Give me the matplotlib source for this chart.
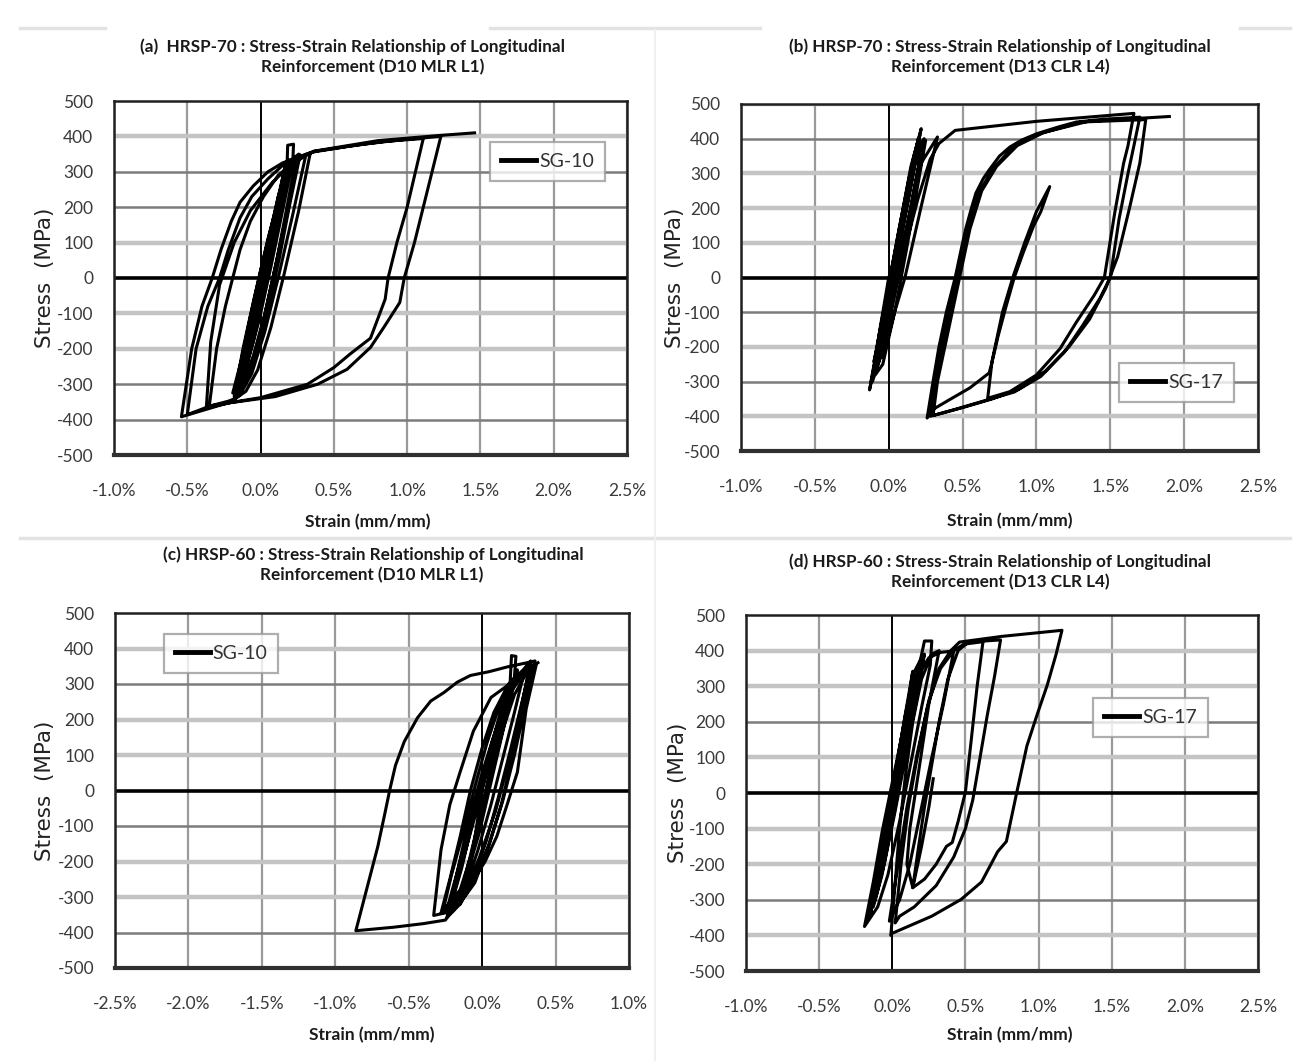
import matplotlib
matplotlib.use("Agg")
import matplotlib.pyplot as plt
import matplotlib.font_manager as fm
from matplotlib.lines import Line2D
from matplotlib.ticker import FuncFormatter

# ---------------- data (strain in %, stress in MPa) ----------------
titles = [
    ("(a)  HRSP-70 : Stress-Strain Relationship of Longitudinal", "Reinforcement (D10 MLR L1)"),
    ("(b) HRSP-70 : Stress-Strain Relationship of Longitudinal", "Reinforcement (D13 CLR L4)"),
    ("(c) HRSP-60 : Stress-Strain Relationship of Longitudinal", "Reinforcement (D10 MLR L1)"),
    ("(d) HRSP-60 : Stress-Strain Relationship of Longitudinal", "Reinforcement (D13 CLR L4)"),
]
series_names = ["SG-10", "SG-17", "SG-10", "SG-17"]
x_label = "Strain (mm/mm)"
y_label = "Stress  (MPa)"
y_ticks = [-500, -400, -300, -200, -100, 0, 100, 200, 300, 400, 500]
x_ticks_abd = [-1.0, -0.5, 0.0, 0.5, 1.0, 1.5, 2.0, 2.5]
x_ticks_c = [-2.5, -2.0, -1.5, -1.0, -0.5, 0.0, 0.5, 1.0]

a_strain = [
    0.00, -0.08, -0.17,
    -0.11, -0.05, 0.02, 0.09, 0.16, 0.22,
    0.16, 0.09, 0.02, -0.05, -0.12, -0.19,
    -0.13, -0.07, 0.00, 0.07, 0.14, 0.21, 0.27,
    0.20, 0.13, 0.05, -0.03, -0.10, -0.14,
    -0.08, -0.02, 0.05, 0.12, 0.19, 0.24,
    0.18, 0.11, 0.03, -0.05, -0.13,
    -0.06, 0.00, 0.06, 0.12, 0.17,
    0.10, 0.02, -0.06, -0.12,
    -0.06, 0.01, 0.08, 0.14, 0.19,
    0.12, 0.04, -0.04, -0.10, -0.15,
    -0.09, -0.02, 0.05, 0.12, 0.18, 0.185, 0.225, 0.22,
    0.15, 0.07, -0.01, -0.09, -0.16,
    -0.10, -0.03, 0.05, 0.13, 0.20, 0.26,
    0.19, 0.10, 0.02, -0.06, -0.14, -0.18,
    -0.12, -0.04, 0.05, 0.14, 0.22, 0.30, 0.34,
    0.26, 0.16, 0.07, -0.02, -0.10, -0.17, -0.22, -0.35,
    -0.30, -0.24, -0.19, -0.14, -0.07, 0.02, 0.12, 0.25, 0.31,
    0.22, 0.12, 0.03, -0.06, -0.14, -0.20, -0.54,
    -0.47, -0.40, -0.33, -0.27, -0.20, -0.14, -0.05, 0.05, 0.15, 0.30, 0.36,
    0.60, 0.85, 1.11,
    1.00, 0.93, 0.87, 0.85, 0.75, 0.61, 0.50, 0.32, 0.00, -0.34, -0.50,
    -0.44, -0.36, -0.28, -0.22, -0.14, -0.06, 0.05, 0.15, 0.30, 0.37,
    0.70, 1.00, 1.23,
    1.11, 1.05, 0.98, 0.95, 0.84, 0.75, 0.59, 0.39, 0.10, -0.20, -0.37,
    -0.34, -0.28, -0.18, -0.07, 0.08, 0.22, 0.36,
    0.80, 1.20, 1.46,
]
a_stress = [
    0, -160, -320,
    -210, -90, 50, 170, 280, 335,
    230, 90, -50, -180, -280, -325,
    -230, -110, 20, 140, 250, 320, 348,
    210, 60, -90, -210, -290, -305,
    -190, -70, 60, 190, 290, 330,
    200, 50, -100, -220, -310,
    -170, -40, 90, 220, 320,
    190, 30, -140, -300,
    -170, -30, 120, 240, 335,
    190, 30, -130, -250, -310,
    -170, -40, 100, 230, 310, 375, 378, 330,
    190, 30, -120, -240, -320,
    -190, -50, 90, 230, 330, 350,
    200, 30, -120, -250, -320, -335,
    -200, -50, 110, 250, 320, 345, 355,
    190, 10, -140, -260, -320, -340, -348, -362,
    -200, -80, 0, 80, 160, 230, 290, 335, 350,
    180, 0, -150, -270, -330, -350, -392,
    -200, -80, 0, 80, 160, 214, 260, 300, 325, 348, 356,
    372, 386, 394,
    200, 100, 0, -60, -170, -215, -253, -300, -338, -361, -386,
    -200, -80, 0, 80, 170, 230, 280, 318, 345, 358,
    378, 392, 400,
    200, 100, 0, -69, -140, -196, -258, -300, -335, -352, -366,
    -180, -20, 100, 190, 270, 325, 358,
    388, 402, 410,
]

b_strain = [
    0.00, -0.06, -0.11,
    -0.05, 0.02, 0.09, 0.16, 0.21,
    0.15, 0.08, 0.01, -0.06, -0.12,
    -0.07, 0.00, 0.07, 0.14, 0.20, 0.24,
    0.18, 0.11, 0.04, -0.03, -0.08,
    -0.03, 0.04, 0.11, 0.18, 0.23,
    0.17, 0.10, 0.02, -0.05, -0.11,
    -0.06, 0.00, 0.08, 0.15, 0.19,
    0.12, 0.05, -0.02, -0.07,
    -0.02, 0.05, 0.12, 0.20,
    0.14, 0.06, -0.02, -0.10,
    -0.04, 0.03, 0.10, 0.17, 0.22,
    0.16, 0.08, 0.00, -0.08, -0.13,
    -0.06, 0.02, 0.09, 0.17, 0.25,
    0.19, 0.12, 0.04, -0.04, -0.09,
    -0.02, 0.06, 0.14, 0.22, 0.33,
    0.22, 0.11, 0.04, -0.04,
    0.03, 0.12, 0.20, 0.28, 0.34, 0.45, 1.00, 1.66,
    1.62, 1.59, 1.53, 1.46, 1.39, 1.27, 1.16, 1.00, 0.82, 0.67,
    0.70, 0.77, 0.84, 0.92, 1.00, 1.09,
    1.03, 0.98, 0.91, 0.85, 0.79, 0.74, 0.70, 0.68,
    0.55, 0.40, 0.28, 0.26,
    0.30, 0.34, 0.39, 0.45, 0.49, 0.52, 0.56, 0.59, 0.64, 0.68, 0.75, 0.82, 0.90, 1.00, 1.15, 1.27, 1.45, 1.70,
    1.66, 1.62, 1.56, 1.50, 1.43, 1.31, 1.19, 1.03, 0.85, 0.65, 0.45, 0.28,
    0.31, 0.36, 0.41, 0.47, 0.54, 0.61, 0.70, 0.84, 1.02, 1.30, 1.74,
    1.70, 1.63, 1.55, 1.47, 1.36, 1.22, 1.06, 0.88, 0.70, 0.50, 0.30,
    0.33, 0.38, 0.43, 0.48, 0.55, 0.63, 0.73, 0.87, 1.05, 1.35, 1.90,
]
b_stress = [
    0, -150, -290,
    -150, 10, 170, 320, 410,
    260, 100, -60, -210, -300,
    -180, -20, 140, 290, 380, 400,
    270, 110, -50, -200, -260,
    -140, 20, 180, 330, 390,
    250, 90, -80, -220, -300,
    -170, -20, 160, 320, 380,
    220, 60, -100, -195,
    -80, 80, 240, 400,
    270, 90, -90, -243,
    -110, 40, 200, 350, 429,
    300, 120, -60, -230, -324,
    -170, 0, 150, 320, 395,
    250, 80, -100, -250, -280,
    -130, 20, 180, 330, 405,
    205, 0, -100, -230,
    -60, 100, 230, 340, 386, 424, 450, 473,
    380, 329, 186, 0, -52, -129, -205, -281, -329, -348,
    -240, -100, 0, 100, 190, 262,
    190, 148, 71, 0, -90, -170, -243, -275,
    -318, -355, -385, -405,
    -300, -200, -100, 0, 80, 138, 200, 243, 285, 310, 350, 376, 396, 414, 434, 448, 456, 462,
    380, 300, 170, 0, -60, -140, -215, -285, -330, -355, -380, -400,
    -300, -200, -100, 0, 138, 243, 310, 376, 414, 448, 455,
    330, 200, 60, -30, -120, -200, -270, -322, -350, -375, -398,
    -300, -200, -100, 0, 140, 250, 320, 380, 418, 450, 464,
]

c_strain = [
    0.00, -0.10, -0.20, -0.24,
    -0.17, -0.09, -0.01, 0.07, 0.15, 0.22, 0.29,
    0.22, 0.14, 0.06, -0.03, -0.12, -0.20, -0.27,
    -0.21, -0.13, -0.05, 0.03, 0.11, 0.19, 0.27, 0.33,
    0.26, 0.19, 0.11, 0.03, -0.06, -0.15,
    -0.09, -0.02, 0.06, 0.14, 0.22, 0.30, 0.35,
    0.29, 0.21, 0.13, 0.04, -0.05, -0.12,
    -0.06, 0.00, 0.08, 0.15, 0.20,
    0.13, 0.05, -0.03, -0.10, -0.15,
    -0.09, -0.02, 0.06, 0.14, 0.22, 0.24,
    0.16, 0.07, -0.02, -0.12, -0.22,
    -0.14, -0.05, 0.04, 0.13, 0.19, 0.20, 0.23, 0.22,
    0.14, 0.05, -0.05, -0.15, -0.28,
    -0.22, -0.15, -0.08, 0.00, 0.08, 0.18, 0.28, 0.33,
    0.26, 0.18, 0.09, -0.02, -0.12, -0.20, -0.33,
    -0.28, -0.22, -0.15, -0.06, 0.06, 0.17, 0.30, 0.37,
    0.30, 0.24, 0.17, 0.10, 0.02, -0.06, -0.14, -0.19, -0.25,
    -0.40, -0.60, -0.86,
    -0.80, -0.71, -0.66, -0.63, -0.59, -0.53, -0.44, -0.35, -0.26, -0.17, -0.08, 0.05, 0.17, 0.33, 0.36,
    0.30, 0.22, 0.14, 0.05, -0.05, -0.15, -0.24,
    -0.18, -0.10, 0.00, 0.10, 0.20, 0.30, 0.38,
]
c_stress = [
    0, -150, -300, -335,
    -230, -110, 20, 140, 240, 300, 340,
    220, 90, -40, -170, -280, -330, -345,
    -240, -120, 10, 130, 230, 290, 330, 350,
    230, 110, -20, -140, -250, -320,
    -210, -90, 40, 170, 270, 330, 355,
    240, 100, -40, -160, -260, -300,
    -160, 0, 120, 230, 300,
    180, 40, -100, -230, -300,
    -200, -80, 60, 190, 320, 340,
    200, 40, -120, -260, -335,
    -220, -60, 90, 230, 300, 380, 378, 320,
    170, 20, -150, -280, -345,
    -250, -130, 0, 120, 220, 300, 340, 365,
    220, 80, -60, -190, -290, -340, -352,
    -167, -40, 52, 167, 262, 295, 340, 357,
    230, 52, -40, -129, -200, -252, -305, -329, -365,
    -375, -385, -395,
    -300, -157, -60, 0, 71, 138, 205, 252, 276, 305, 324, 335, 348, 362, 365,
    250, 100, -30, -150, -250, -320, -358,
    -250, -100, 50, 180, 280, 340, 360,
]

d_strain = [
    0.00, -0.08, -0.17,
    -0.11, -0.04, 0.03, 0.10, 0.16, 0.21,
    0.15, 0.08, 0.01, -0.06, -0.12, -0.16,
    -0.10, -0.03, 0.04, 0.11, 0.17, 0.22,
    0.16, 0.09, 0.02, -0.05, -0.11, -0.17,
    -0.12, -0.05, 0.02, 0.09, 0.15, 0.19,
    0.13, 0.06, -0.01, -0.08, -0.14,
    -0.07, 0.00, 0.05, 0.10, 0.14,
    0.08, 0.02, -0.04, -0.10, -0.15,
    -0.09, -0.03, 0.03, 0.09, 0.15, 0.20,
    0.14, 0.07, 0.00, -0.07, -0.13,
    -0.07, 0.00, 0.07, 0.13, 0.18, 0.22, 0.27, 0.26,
    0.20, 0.13, 0.05, -0.03, -0.10, -0.19,
    -0.13, -0.07, 0.00, 0.08, 0.16, 0.25, 0.33, 0.42,
    0.35, 0.27, 0.19, 0.12, 0.05, -0.02,
    0.04, 0.10, 0.17, 0.25, 0.33, 0.42, 0.49, 0.62,
    0.58, 0.54, 0.50, 0.45, 0.41, 0.37, 0.30, 0.22, 0.14,
    0.18, 0.22, 0.27, 0.32, 0.38, 0.45, 0.52, 0.74,
    0.70, 0.65, 0.60, 0.55, 0.50, 0.42, 0.30, 0.15, 0.05, 0.02,
    0.06, 0.11, 0.17, 0.24, 0.32, 0.40, 0.46, 0.75, 1.16,
    1.12, 1.06, 0.99, 0.92, 0.85, 0.78, 0.72, 0.61, 0.47, 0.27, 0.00, -0.01,
    0.02, 0.05, 0.09, 0.14, 0.20, 0.27, 0.32,
    0.25, 0.18, 0.12, 0.10, 0.14,
    0.20, 0.25, 0.28,
]
d_stress = [
    0, -170, -350,
    -240, -100, 40, 180, 300, 370,
    240, 90, -60, -200, -300, -340,
    -220, -80, 60, 200, 320, 390,
    250, 100, -50, -190, -290, -355,
    -250, -110, 30, 170, 290, 350,
    220, 70, -80, -220, -320,
    -170, 0, 120, 230, 342,
    200, 50, -100, -250, -340,
    -200, -60, 80, 220, 340, 380,
    240, 80, -80, -230, -320,
    -170, -10, 150, 280, 350, 427, 427, 360,
    240, 90, -80, -230, -320, -375,
    -250, -110, 30, 190, 320, 380, 395, 399,
    250, 100, -60, -200, -300, -360,
    -200, -40, 110, 260, 350, 400, 418, 425,
    300, 150, 3, -80, -139, -150, -200, -242, -266,
    -150, -40, 80, 200, 320, 400, 424, 430,
    330, 220, 100, -20, -100, -180, -260, -320, -346, -365,
    -200, -40, 100, 240, 350, 400, 424, 440, 457,
    390, 304, 220, 132, 0, -136, -165, -250, -299, -346, -394, -400,
    -250, -100, 50, 200, 320, 390, 400,
    250, 60, -100, -200, -266,
    -150, -40, 40,
]

# ---------------- style ----------------
def pick(names):
    for n in names:
        try:
            fm.findfont(fm.FontProperties(family=n), fallback_to_default=False)
            return n
        except Exception:
            pass
    return "DejaVu Sans"

TICK_FONT = pick(["Liberation Sans Narrow", "Lato"])
TITLE_FONT = pick(["Lato", "Open Sans"])
plt.rcParams["axes.unicode_minus"] = False

W, H = 1301, 1062
fig = plt.figure(figsize=(W / 100, H / 100), dpi=100)
fig.patch.set_facecolor("white")

def fx(x):
    return x / W

def fy(y):
    return 1 - y / H

# axes boxes in pixel coordinates: left, top, right, bottom
boxes = [(114, 101, 627, 455), (741, 104, 1258, 451), (115, 613, 629, 968), (746, 615, 1258, 971)]
xlims = [(-1.0, 2.5), (-1.0, 2.5), (-2.5, 1.0), (-1.0, 2.5)]
xticks_list = [x_ticks_abd, x_ticks_abd, x_ticks_c, x_ticks_abd]
strains = [a_strain, b_strain, c_strain, d_strain]
stresses = [a_stress, b_stress, c_stress, d_stress]
light_h = [
    [400, 100, -100, -200],
    [500, 300, 200, 100, -200, -400],
    [400, 200, 100, -200, -300],
    [400, 300, 100, -100, -200, -400],
]
title_pos = [((352, 47), (373, 67)), ((1000, 47), (1000, 67)), ((373, 555), (372, 575)), ((1000, 562), (1000, 582))]
ylabel_x = [45, 675, 45, 678]
xlabel_pos = [(368, 522), (1010, 521), (372, 1035), (1010, 1035)]
legend_boxes = [(497, 143, 598, 180), (1125, 363, 1228, 402), (172, 635, 270, 672), (1100, 693, 1201, 742)]

for i in range(4):
    l, t, r, b = boxes[i]
    ax = fig.add_axes([fx(l), fy(b), (r - l) / W, (b - t) / H])
    ax.set_xlim(*xlims[i])
    ax.set_ylim(-500, 500)
    # grid
    for xv in xticks_list[i]:
        if xv == 0:
            continue
        ax.axvline(xv, color="#9a9a9a", lw=1.6, zorder=1)
    for yv in y_ticks:
        if yv in (0, -500, 500) and not (yv == 500 and yv in light_h[i]):
            continue
        if yv in light_h[i]:
            ax.axhline(yv, color="#c4c4c4", lw=3.2, zorder=1)
        else:
            ax.axhline(yv, color="#7c7c7c", lw=1.8, zorder=1)
    ax.axhline(0, color="black", lw=2.6, zorder=2)
    ax.axvline(0, color="black", lw=1.4, zorder=2)

    ax.plot(strains[i], stresses[i], color="black", lw=2.2, zorder=3, label=series_names[i])

    ax.set_xticks(xticks_list[i])
    ax.set_yticks(y_ticks)
    ax.xaxis.set_major_formatter(FuncFormatter(lambda v, p: f"{v:.1f}%"))
    ax.yaxis.set_major_formatter(FuncFormatter(lambda v, p: f"{int(round(v))}"))
    ax.tick_params(axis="both", length=0, labelsize=12.5, colors="#3a3a3a")
    ax.tick_params(axis="x", pad=20)
    ax.tick_params(axis="y", pad=15)
    for lab in ax.get_xticklabels() + ax.get_yticklabels():
        lab.set_fontfamily(TICK_FONT)
    for side in ("left", "top", "right"):
        ax.spines[side].set_color("#202020")
        ax.spines[side].set_linewidth(1.8)
    ax.spines["bottom"].set_color("#303030")
    ax.spines["bottom"].set_linewidth(3.0)

    # legend
    lx0, ly0, lx1, ly1 = legend_boxes[i]
    lcx = ((lx0 + lx1) / 2 - l) / (r - l)
    lcy = 1 - ((ly0 + ly1) / 2 - t) / (b - t)
    leg = ax.legend(
        handles=[Line2D([0], [0], color="black", lw=3.5)],
        labels=[series_names[i]],
        loc="center",
        bbox_to_anchor=(lcx, lcy),
        frameon=True,
        fancybox=False,
        handlelength=1.8,
        handletextpad=0.15,
        borderpad=0.55,
        borderaxespad=0,
        prop={"family": TICK_FONT, "size": 14},
    )
    leg.get_frame().set_edgecolor("#9a9a9a")
    leg.get_frame().set_linewidth(1.6)
    for txt in leg.get_texts():
        txt.set_color("#333333")
    leg.set_zorder(5)

    # titles
    (t1x, t1y), (t2x, t2y) = title_pos[i]
    fig.text(fx(t1x), fy(t1y), titles[i][0], ha="center", va="center",
             fontsize=12.3, fontweight="bold", family=TITLE_FONT, color="#1a1a1a")
    fig.text(fx(t2x), fy(t2y), titles[i][1], ha="center", va="center",
             fontsize=12.3, fontweight="bold", family=TITLE_FONT, color="#1a1a1a")
    # axis labels
    fig.text(fx(ylabel_x[i]), fy((t + b) / 2), y_label, rotation=90, ha="center", va="center",
             fontsize=15.5, color="#222222")
    fig.text(fx(xlabel_pos[i][0]), fy(xlabel_pos[i][1]), x_label, ha="center", va="center",
             fontsize=12.5, fontweight="bold", family=TITLE_FONT, color="#1a1a1a")

# faint separator lines from the source page
for (x0, x1, yy) in [(20, 105, 28), (490, 760, 28), (1240, 1290, 28), (20, 1290, 538)]:
    fig.add_artist(Line2D([fx(x0), fx(x1)], [fy(yy), fy(yy)], color="#e3e3e3", lw=2.5))
fig.add_artist(Line2D([fx(655), fx(655)], [fy(30), fy(1060)], color="#f0f0f0", lw=1.5))

fig.savefig("out.png", dpi=100, facecolor="white")
